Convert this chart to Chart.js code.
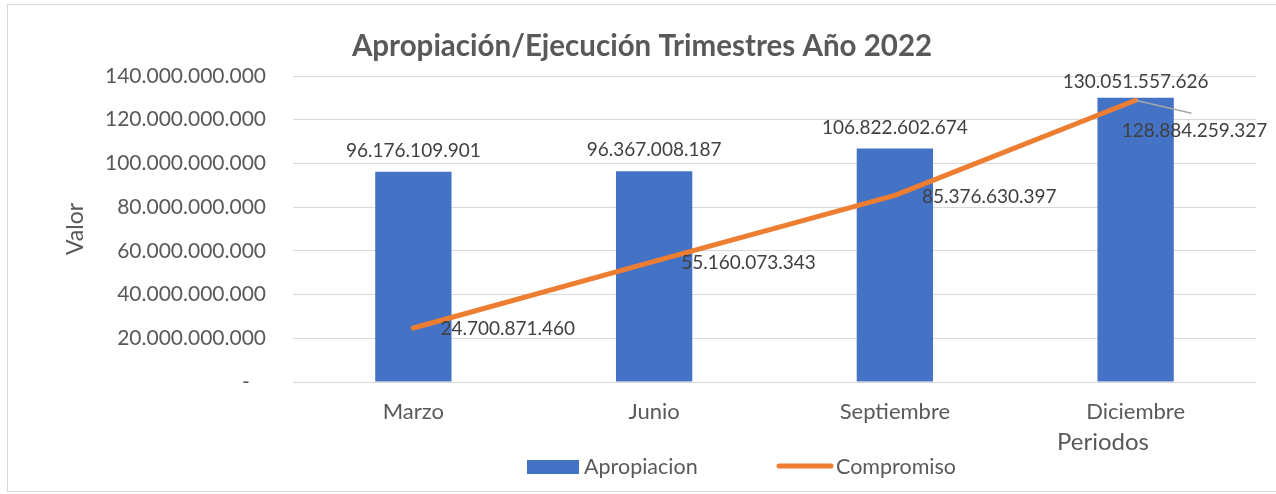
<!DOCTYPE html>
<html lang="es">
<head>
<meta charset="utf-8">
<title>Apropiación/Ejecución Trimestres Año 2022</title>
<script src="https://cdn.jsdelivr.net/npm/chart.js@4.4.1/dist/chart.umd.min.js"></script>
<style>
    html, body { margin: 0; padding: 0; background: #fff; }
    body { width: 1276px; height: 494px; overflow: hidden; position: relative; }
    .marco {
        position: absolute; left: 7px; top: 4px; width: 1290px; height: 488px;
        border: 1px solid #d9d9d9; box-sizing: border-box;
    }
    .lienzo { position: absolute; left: 0; top: 0; width: 1276px; height: 494px; }
</style>
</head>
<body>
<div class="marco"></div>
<div class="lienzo"><canvas id="graficoTrimestres"></canvas></div>
<script>
const periodos = ['Marzo', 'Junio', 'Septiembre', 'Diciembre'];
const apropiacion = [96176109901, 96367008187, 106822602674, 130051557626];
const compromiso = [24700871460, 55160073343, 85376630397, 128884259327];
const marcasEjeY = [0, 20000000000, 40000000000, 60000000000, 80000000000, 100000000000, 120000000000, 140000000000];

const FUENTE = 'Lato, "Open Sans", sans-serif';
const GRIS_TEXTO = '#595959';
const AZUL = '#4472C4';
const NARANJA = '#ED7D31';

// 96176109901 -> 96.176.109.901
const formatoMiles = (valor) => String(Math.round(valor)).replace(/\B(?=(\d{3})+(?!\d))/g, '.');

// etiquetas de valor sobre las barras y a la derecha de la línea
const etiquetasDatos = {
    id: 'etiquetasDatos',
    afterDatasetsDraw(chart) {
        const { ctx, chartArea } = chart;
        ctx.save();
        ctx.font = `19px ${FUENTE}`;
        ctx.fillStyle = '#404040';
        ctx.textBaseline = 'middle';

        ctx.textAlign = 'center';
        chart.getDatasetMeta(1).data.forEach((barra, i) => {
            const y = Math.max(barra.y - 21, chartArea.top + 6);
            ctx.fillText(formatoMiles(apropiacion[i]), barra.x, y);
        });

        ctx.textAlign = 'left';
        const puntos = chart.getDatasetMeta(0).data;
        puntos.forEach((punto, i) => {
            const texto = formatoMiles(compromiso[i]);
            if (i === puntos.length - 1) {
                // la última etiqueta va desplazada hacia abajo con línea guía
                const lx = punto.x - 14;
                const ly = punto.y + 31;
                const ancho = ctx.measureText(texto).width;
                ctx.strokeStyle = '#a6a6a6';
                ctx.lineWidth = 1.5;
                ctx.beginPath();
                ctx.moveTo(punto.x, punto.y);
                ctx.lineTo(lx + ancho / 2 - 3, ly - 18);
                ctx.stroke();
                ctx.fillText(texto, lx, ly);
            } else {
                ctx.fillText(texto, punto.x + 27, punto.y + 1);
            }
        });
        ctx.restore();
    }
};

// título del eje X y leyenda inferior
const textosInferiores = {
    id: 'textosInferiores',
    afterDraw(chart) {
        const { ctx } = chart;
        ctx.save();
        ctx.fillStyle = GRIS_TEXTO;
        ctx.textBaseline = 'middle';
        ctx.textAlign = 'left';
        ctx.font = `24px ${FUENTE}`;
        ctx.fillText('Periodos', 1057, 442);

        const yLeyenda = 467;
        ctx.font = `21.5px ${FUENTE}`;

        const barras = chart.data.datasets[1];
        ctx.fillStyle = barras.backgroundColor;
        ctx.fillRect(527, yLeyenda - 7, 52, 14);
        ctx.fillStyle = GRIS_TEXTO;
        ctx.fillText(barras.label, 584, yLeyenda);

        const linea = chart.data.datasets[0];
        ctx.strokeStyle = linea.borderColor;
        ctx.lineWidth = 5;
        ctx.lineCap = 'round';
        ctx.beginPath();
        ctx.moveTo(779, yLeyenda - 1);
        ctx.lineTo(831, yLeyenda - 1);
        ctx.stroke();
        ctx.fillText(linea.label, 836, yLeyenda);
        ctx.restore();
    }
};

document.addEventListener('DOMContentLoaded', () => {
    const canvas = document.getElementById('graficoTrimestres');

    new Chart(canvas, {
        type: 'bar',
        data: {
            labels: periodos,
            datasets: [{
                type: 'line',
                label: 'Compromiso',
                data: compromiso,
                borderColor: NARANJA,
                backgroundColor: NARANJA,
                borderWidth: 5,
                borderCapStyle: 'round',
                borderJoinStyle: 'round',
                pointRadius: 0,
                tension: 0,
                order: 1
            }, {
                type: 'bar',
                label: 'Apropiacion',
                data: apropiacion,
                backgroundColor: AZUL,
                borderWidth: 0,
                categoryPercentage: 1,
                barPercentage: 0.317,
                order: 2
            }]
        },
        options: {
            responsive: true,
            maintainAspectRatio: false,
            animation: false,
            layout: {
                padding: { left: 28, right: 20, top: 0, bottom: 0 }
            },
            plugins: {
                legend: { display: false },
                tooltip: { enabled: false },
                title: {
                    display: true,
                    text: 'Apropiación/Ejecución Trimestres Año 2022',
                    color: GRIS_TEXTO,
                    font: { family: FUENTE, size: 29.5, weight: 'bold' },
                    padding: { top: 29, bottom: 11.6 }
                }
            },
            scales: {
                x: {
                    grid: { display: false, drawTicks: false },
                    border: { display: false },
                    ticks: {
                        color: GRIS_TEXTO,
                        font: { family: FUENTE, size: 22 },
                        padding: 17,
                        maxRotation: 0
                    },
                    afterFit: (scale) => { scale.height = 112; }
                },
                y: {
                    min: 0,
                    max: 140000000000,
                    afterBuildTicks: (scale) => {
                        scale.ticks = marcasEjeY.map((value) => ({ value }));
                    },
                    grid: { color: '#d9d9d9', lineWidth: 1, drawTicks: false },
                    border: { display: false },
                    ticks: {
                        color: GRIS_TEXTO,
                        font: { family: FUENTE, size: 21 },
                        padding: 27,
                        callback: (value) => (value === 0 ? '-   ' : formatoMiles(value))
                    },
                    title: {
                        display: true,
                        text: 'Valor',
                        color: GRIS_TEXTO,
                        font: { family: FUENTE, size: 23 },
                        padding: { top: 34, bottom: 0 }
                    },
                    afterFit: (scale) => { scale.width = 265; }
                }
            }
        },
        plugins: [etiquetasDatos, textosInferiores]
    });
});
</script>
</body>
</html>
